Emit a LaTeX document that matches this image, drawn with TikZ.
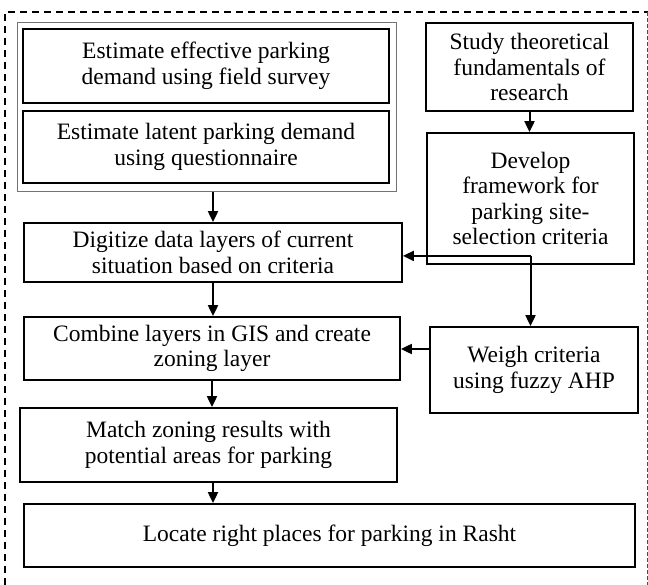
\documentclass[tikz,border=0pt]{standalone}
\usepackage{fontspec}
\setmainfont{Liberation Serif}
\usetikzlibrary{arrows.meta}
\begin{document}
\begin{tikzpicture}[x=1pt,y=-1pt,
  box/.style={draw=black,line width=1.8pt,rectangle,inner sep=0pt,align=center,
    font=\fontsize{23.5}{25.5}\selectfont},
  outerbox/.style={draw=black!55,line width=1pt,rectangle,inner sep=0pt},
  arr/.style={line width=2pt,-{Triangle[length=11pt,width=10pt]}},
  ln/.style={line width=2pt}]
\useasboundingbox (0,0) rectangle (648,585);
% frame
\draw[line width=1.6pt,dash pattern=on 7pt off 5pt] (5,585) -- (5,12) -- (648,12);
\draw[line width=1pt,black!70,dash pattern=on 4pt off 2pt] (647,12) -- (647,585);
% nodes
\node[outerbox,minimum width=379,minimum height=169] (outer) at (206.5,107.5) {};
\node[box,minimum width=366,minimum height=74] (e1) at (206,66) {Estimate effective parking\\demand using field survey};
\node[box,minimum width=366,minimum height=72] (e2) at (206,147) {Estimate latent parking demand\\using questionnaire};
\node[box,minimum width=207,minimum height=88] (study) at (529.5,67) {Study theoretical\\fundamentals of\\research};
\node[box,minimum width=207,minimum height=131] (develop) at (530.5,198.5) {Develop\\framework for\\parking site-\\selection criteria};
\node[box,minimum width=378,minimum height=59] (digitize) at (213,252.5) {Digitize data layers of current\\situation based on criteria};
\node[box,minimum width=376,minimum height=63] (combine) at (212,348.5) {Combine layers in GIS and create\\zoning layer};
\node[box,minimum width=208,minimum height=86] (weigh) at (534,370) {Weigh criteria\\using fuzzy AHP};
\node[box,minimum width=377,minimum height=74] (match) at (208.5,445) {Match zoning results with\\potential areas for parking};
\node[box,minimum width=611,minimum height=63] (locate) at (329.5,535.5) {Locate right places for parking in Rasht};
% connectors
\draw[arr] (study.south) -- (study.south |- develop.north);
\draw[arr] (digitize.north |- outer.south) -- (digitize.north);
\coordinate (br) at ([yshift=9pt]develop.south);
\draw[ln] (develop.south) -- (br);
\draw[arr] (br) -- (develop.south |- weigh.north);
\draw[arr] (br) -- (digitize.east |- br);
\draw[arr] (digitize.south) -- (digitize.south |- combine.north);
\draw[arr] (weigh.west |- 0,349) -- (combine.east |- 0,349);
\draw[arr] (combine.south) -- (combine.south |- match.north);
\draw[arr] (digitize.south |- match.south) -- (digitize.south |- locate.north);
\end{tikzpicture}
\end{document}
